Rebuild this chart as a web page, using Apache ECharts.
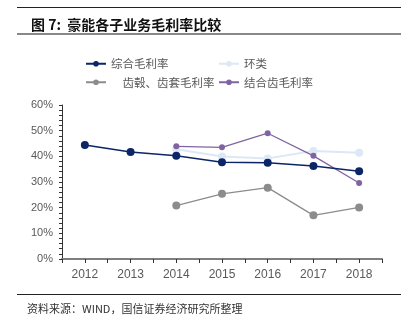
<!DOCTYPE html>
<html><head><meta charset="utf-8">
<script src="https://cdn.jsdelivr.net/npm/echarts@6/dist/echarts.min.js"></script>
<style>html,body{margin:0;padding:0;background:#fff}#c{width:409px;height:328px}</style>
</head><body><div id="c"></div>
<script>
var years = [2012, 2013, 2014, 2015, 2016, 2017, 2018];
var zonghe = [44.4, 41.7, 40.2, 37.7, 37.5, 36.2, 34.2];
var huanlei = [null, null, 42.8, 39.9, 39.2, 42.1, 41.4];
var chigu = [null, null, 20.8, 25.4, 27.8, 17.0, 20.1];
var jiehechi = [null, null, 43.9, 43.5, 49.0, 40.2, 29.6];
var yTicks = ['0%', '10%', '20%', '30%', '40%', '50%', '60%'];

function pairs(v) { return years.map(function (y, i) { return [y, v[i]]; }); }
var cjk = '"Noto Sans CJK SC", sans-serif';
var chart = echarts.init(document.getElementById('c'));
chart.setOption({
  animation: false,
  title: {
    text: '图 7:  豪能各子业务毛利率比较', left: 26, top: 13,
    textStyle: { fontFamily: cjk, fontSize: 14, fontWeight: 'bold', color: '#111' }
  },
  graphic: [
    { type: 'line', shape: { x1: 17, y1: 7.5, x2: 401, y2: 7.5 }, style: { stroke: '#222', lineWidth: 1 } },
    { type: 'line', shape: { x1: 17, y1: 34, x2: 401, y2: 34 }, style: { stroke: '#888', lineWidth: 2 } },
    { type: 'line', shape: { x1: 17, y1: 294.5, x2: 401, y2: 294.5 }, style: { stroke: '#222', lineWidth: 1 } },
    { type: 'text', left: 27, top: 303, style: { text: '资料来源：WIND，国信证券经济研究所整理', font: '11px "Noto Sans CJK SC"', fill: '#333' } }
  ],
  legend: [
    { orient: 'vertical', left: 80, top: 53, itemWidth: 20, itemHeight: 7, itemGap: 7,
      textStyle: { fontFamily: cjk, fontSize: 11.5, color: '#595959' },
      data: ['综合毛利率', '　齿毂、齿套毛利率'] },
    { orient: 'vertical', left: 213, top: 53, itemWidth: 20, itemHeight: 7, itemGap: 7,
      textStyle: { fontFamily: cjk, fontSize: 11.5, color: '#595959' },
      data: ['环类', '结合齿毛利率'] }
  ],
  grid: { left: 62, right: 27, top: 105, bottom: 69 },
  xAxis: {
    type: 'value', min: 2011.5, max: 2018.5, interval: 0.5,
    splitLine: { show: false },
    axisLine: { show: true, lineStyle: { color: '#7f7f7f', width: 2 } },
    axisTick: { show: true, inside: false, length: 4, lineStyle: { color: '#333' } },
    axisLabel: {
      margin: 10, color: '#595959', fontSize: 12, fontFamily: 'Liberation Sans',
      formatter: function (v) { return Number.isInteger(v) ? String(v) : ''; }
    }
  },
  yAxis: {
    type: 'value', min: 0, max: 60, interval: 10,
    splitLine: { show: false },
    axisLine: { show: true, lineStyle: { color: '#333', width: 1 } },
    axisTick: { show: true, length: 3, lineStyle: { color: '#333' } },
    minorTick: { show: true, splitNumber: 5, length: 3, lineStyle: { color: '#333' } },
    axisLabel: {
      margin: 9, color: '#595959', fontSize: 11, fontFamily: 'Liberation Sans',
      formatter: function (v) { return yTicks[Math.round(v / 10)]; }
    }
  },
  series: [
    { name: '环类', type: 'line', data: pairs(huanlei), symbol: 'circle', symbolSize: 8,
      itemStyle: { color: '#dce8f5' }, lineStyle: { color: '#dce8f5', width: 2 }, z: 1 },
    { name: '　齿毂、齿套毛利率', type: 'line', data: pairs(chigu), symbol: 'circle', symbolSize: 8,
      itemStyle: { color: '#8c8c8c' }, lineStyle: { color: '#8c8c8c', width: 1.3 }, z: 2 },
    { name: '结合齿毛利率', type: 'line', data: pairs(jiehechi), symbol: 'circle', symbolSize: 6,
      itemStyle: { color: '#8064a2' }, lineStyle: { color: '#8064a2', width: 1.3 }, z: 3 },
    { name: '综合毛利率', type: 'line', data: pairs(zonghe), symbol: 'circle', symbolSize: 8,
      itemStyle: { color: '#0b2566' }, lineStyle: { color: '#0b2566', width: 1.5 }, z: 4 }
  ]
});
</script></body></html>
